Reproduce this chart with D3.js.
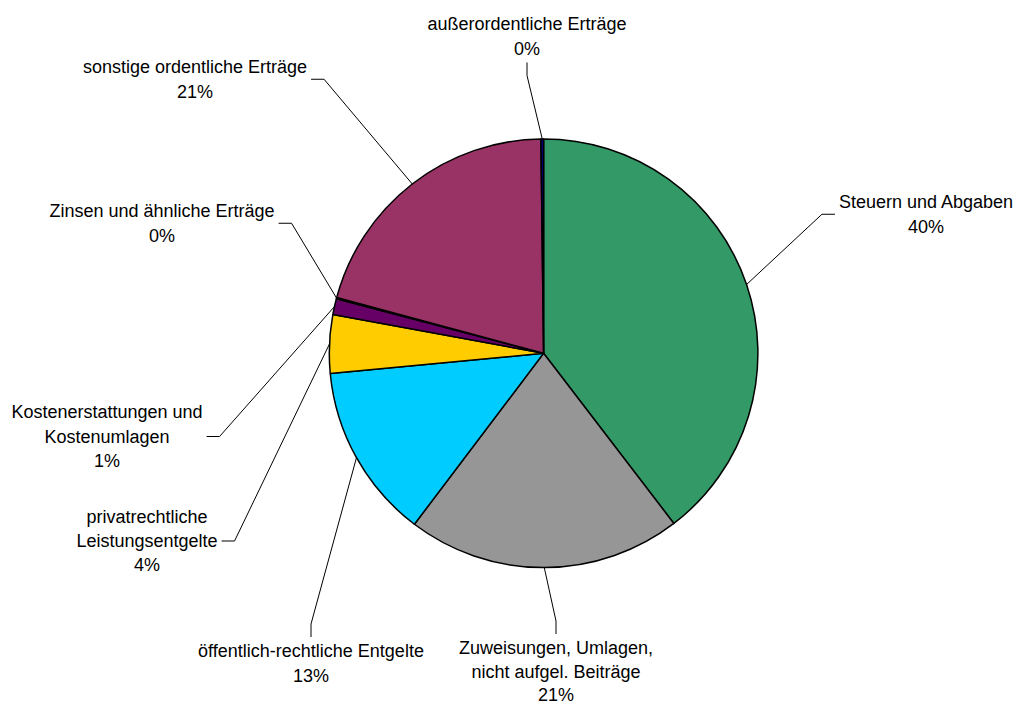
<!DOCTYPE html>
<html>
<head>
<meta charset="utf-8">
<script src="https://cdn.jsdelivr.net/npm/d3@7"></script>
<style>
    body { margin: 0; background: #fff; }
    svg { display: block; }
    text { font-family: "Liberation Sans", Arial, sans-serif; font-size: 18px; fill: #000; }
</style>
</head>
<body>
<svg width="1016" height="704"></svg>
<script>
// data, in pie order (clockwise from 12 o'clock)
const categories = [
    "Steuern und Abgaben",
    "Zuweisungen, Umlagen, nicht aufgel. Beiträge",
    "öffentlich-rechtliche Entgelte",
    "privatrechtliche Leistungsentgelte",
    "Kostenerstattungen und Kostenumlagen",
    "Zinsen und ähnliche Erträge",
    "sonstige ordentliche Erträge",
    "außerordentliche Erträge"
];
const shares = [39.6, 20.7, 13.2, 4.4, 1.2, 0.1, 20.6, 0.2];
const labelLines = [
    ["Steuern und Abgaben"],
    ["Zuweisungen, Umlagen,", "nicht aufgel. Beiträge"],
    ["öffentlich-rechtliche Entgelte"],
    ["privatrechtliche", "Leistungsentgelte"],
    ["Kostenerstattungen und", "Kostenumlagen"],
    ["Zinsen und ähnliche Erträge"],
    ["sonstige ordentliche Erträge"],
    ["außerordentliche Erträge"]
];
const colors = ["#339966", "#969696", "#00ccff", "#ffcc00", "#660066", "#800080", "#993366", "#000080"];

// label layout: text centre x, first baseline y, line gap, side where the leader leaves the text
const labelAt = [
    [926, 208, 24.5, "left"],
    [556, 654, 23.5, "top"],
    [311, 657, 24.5, "top"],
    [147, 523, 24, "right"],
    [107, 418, 24.5, "right"],
    [162, 217, 24.5, "right"],
    [195, 73, 24.5, "right"],
    [527, 30, 24.5, "bottom"]
];

const cx = 543.6, cy = 353.3, radius = 214.3;
const stub = 13, pad = 4;

const svg = d3.select("svg");
const g = svg.append("g").attr("transform", `translate(${cx}, ${cy})`);

const pie = d3.pie().sort(null).value(d => d);
const arcs = pie(shares);
const total = d3.sum(shares);
const pct = d3.format(".0%");

const arc = d3.arc().innerRadius(0).outerRadius(radius);
const rim = d3.arc().innerRadius(radius).outerRadius(radius);

// slices
g.selectAll("path.slice")
    .data(arcs)
    .enter().append("path")
    .attr("class", "slice")
    .attr("d", arc)
    .attr("fill", (d, i) => colors[i])
    .attr("stroke", "#000")
    .attr("stroke-width", 1.5)
    .attr("stroke-linejoin", "round");

// labels
const labels = svg.selectAll("text.lbl")
    .data(arcs)
    .enter().append("text")
    .attr("class", "lbl")
    .attr("text-anchor", "middle");

labels.each(function (d, i) {
    const t = d3.select(this);
    const lines = labelLines[i].concat([pct(d.data / total)]);
    lines.forEach((l, k) => {
        t.append("tspan")
            .attr("x", labelAt[i][0])
            .attr("y", labelAt[i][1] + k * labelAt[i][2])
            .text(l);
    });
});

// leader lines
labels.each(function (d, i) {
    const b = this.getBBox();
    const side = labelAt[i][3];
    let p0, p1;
    if (side === "right") {
        p0 = [b.x + b.width + pad, b.y + b.height / 2];
        p1 = [p0[0] + stub, p0[1]];
    } else if (side === "left") {
        p0 = [b.x - pad, b.y + b.height / 2];
        p1 = [p0[0] - stub, p0[1]];
    } else if (side === "top") {
        p0 = [b.x + b.width / 2, b.y - pad];
        p1 = [p0[0], p0[1] - stub];
    } else {
        p0 = [b.x + b.width / 2, b.y + b.height + pad];
        p1 = [p0[0], p0[1] + stub];
    }
    const c = rim.centroid(d);
    const p2 = [cx + c[0], cy + c[1]];
    svg.append("path")
        .attr("d", d3.line()([p0, p1, p2]))
        .attr("fill", "none")
        .attr("stroke", "#000")
        .attr("stroke-width", 1);
});
</script>
</body>
</html>
